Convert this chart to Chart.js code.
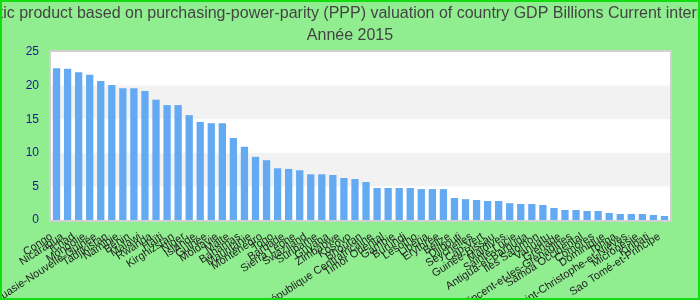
<!DOCTYPE html>
<html>
<head>
<meta charset="utf-8">
<script src="https://cdn.jsdelivr.net/npm/chart.js@4/dist/chart.umd.min.js"></script>
<style>
  html, body { margin: 0; padding: 0; background: #90ee90; }
  #cadre { width: 700px; height: 300px; position: relative; }
</style>
</head>
<body>
<div id="cadre"><canvas id="graphique" width="700" height="300"></canvas></div>
<script>
const titre = 'Gross domestic product based on purchasing-power-parity (PPP) valuation of country GDP Billions Current international dollar';
const sousTitre = 'Année 2015';

const pays = [
    'Congo', 'Nicaragua', 'Tchad', 'Mongolie', 'Papouasie-Nouvelle-Guinée', 'Tadjikistan',
    'Namibie', 'Bénin', 'Malawi', 'Rwanda', 'Haïti', 'Kirghizstan', 'Niger', 'Islande',
    'Guinée', 'Moldavie', 'Malte', 'Bahamas', 'Mauritanie', 'Monténégro', 'Togo', 'Barbade',
    'Sierra Leone', 'Swaziland', 'Suriname', 'Guyana', 'Zimbabwe', 'Kosovo', 'Bhoutan',
    'République Centrafricaine', 'Timor Oriental', 'Gambie', 'Burundi', 'Lesotho', 'Libéria',
    'Erythrée', 'Belize', 'Djibouti', 'Seychelles', 'Cap-Vert', 'Guinée-Bissau', 'Maldives',
    'Sainte-Lucie', 'Antigua-et-Barbuda', 'Iles Salomon', 'Vanuatu', 'Grenade',
    'Saint-Vincent-et-les-Grenadines', 'Samoa Occidental', 'Comores', 'Dominique', 'Tonga',
    'Saint-Christophe-et-Niévès', 'Micronésie', 'Kiribati', 'Sao Tomé-et-Principe'
];

const valeurs = [
    22.6, 22.5, 22.0, 21.6, 20.7, 20.1, 19.6, 19.6, 19.2, 17.9, 17.1, 17.1, 15.6, 14.6,
    14.4, 14.4, 12.2, 10.9, 9.4, 8.9, 7.7, 7.6, 7.4, 6.8, 6.8, 6.7, 6.25, 6.1, 5.65,
    4.76, 4.76, 4.76, 4.76, 4.6, 4.6, 4.6, 3.27, 3.1, 2.98, 2.83, 2.83, 2.5, 2.38, 2.38,
    2.23, 1.79, 1.49, 1.49, 1.34, 1.34, 1.04, 0.89, 0.89, 0.89, 0.74, 0.6
];

const graduations = [0, 5, 10, 15, 20, 25];
// bandes grises du fond : [bas, haut]
const bandes = [[5, 10], [15, 20]];

// fond blanc, bandes, bordure, titres (sans compression) et cadre vert
const decor = {
    id: 'decor',
    beforeDatasetsDraw(chart) {
        const ctx = chart.ctx;
        const a = chart.chartArea;
        const y = chart.scales.y;
        ctx.save();
        ctx.fillStyle = '#ffffff';
        ctx.fillRect(a.left, a.top, a.right - a.left, a.bottom - a.top);
        ctx.fillStyle = '#f2f2f2';
        bandes.forEach(b => {
            const haut = y.getPixelForValue(b[1]);
            const bas = y.getPixelForValue(b[0]);
            ctx.fillRect(a.left, haut, a.right - a.left, bas - haut);
        });
        ctx.strokeStyle = '#d0d0d0';
        ctx.lineWidth = 2;
        ctx.strokeRect(a.left - 1, a.top - 1, a.right - a.left + 2, a.bottom - a.top + 2);
        ctx.restore();
    },
    afterDraw(chart) {
        const ctx = chart.ctx;
        ctx.save();
        ctx.fillStyle = '#444444';
        ctx.font = '16px "Liberation Sans", Arial';
        ctx.textAlign = 'center';
        ctx.textBaseline = 'middle';
        ctx.fillText(titre, chart.width / 2, 14);
        ctx.fillText(sousTitre, chart.width / 2, 36);
        ctx.strokeStyle = '#11dd11';
        ctx.lineWidth = 2;
        ctx.strokeRect(1, 1, chart.width - 2, chart.height - 2);
        ctx.restore();
    }
};

const ctx = document.getElementById('graphique').getContext('2d');
new Chart(ctx, {
    type: 'bar',
    data: {
        labels: pays,
        datasets: [{
            data: valeurs,
            backgroundColor: '#63aaf3',
            borderWidth: 0,
            categoryPercentage: 1,
            barPercentage: 0.66
        }]
    },
    options: {
        responsive: false,
        animation: false,
        devicePixelRatio: 1,
        layout: { padding: { left: 0, right: 30, top: 52, bottom: 0 } },
        plugins: {
            legend: { display: false },
            tooltip: { enabled: false },
            title: { display: false }
        },
        scales: {
            x: {
                grid: { display: false, drawTicks: false },
                border: { display: false },
                ticks: {
                    autoSkip: false,
                    minRotation: 33,
                    maxRotation: 33,
                    padding: 10,
                    labelOffset: -5,
                    color: '#222222',
                    font: { family: 'Liberation Sans, Arial', size: 11 }
                },
                afterFit(scale) { scale.height = 80; }
            },
            y: {
                min: graduations[0],
                max: graduations[graduations.length - 1],
                grid: { display: false, drawTicks: false },
                border: { display: false },
                afterBuildTicks(scale) {
                    scale.ticks = graduations.map(v => ({ value: v }));
                },
                ticks: {
                    padding: 12,
                    color: '#1a1a8c',
                    font: { family: 'Liberation Sans, Arial', size: 12 }
                },
                afterFit(scale) { scale.width = 51; }
            }
        }
    },
    plugins: [decor]
});
</script>
</body>
</html>
